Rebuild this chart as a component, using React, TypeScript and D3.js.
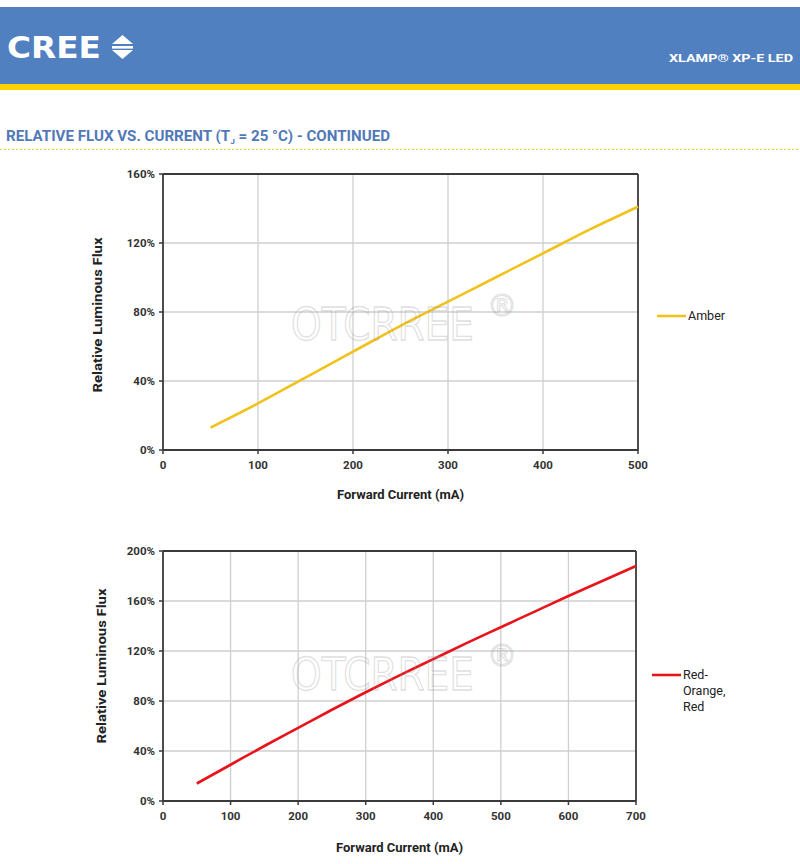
import React from "react";
import * as d3 from "d3";

const amberCurrent = [50, 100, 150, 200, 250, 300, 350, 400, 450, 500];
const amberFlux = [13, 27, 42, 57, 72, 86, 100, 114, 128, 141];

const redCurrent = [50, 100, 150, 200, 250, 300, 350, 400, 450, 500, 550, 600, 650, 700];
const redFlux = [14, 29, 44, 58.5, 73, 87, 100.5, 113.5, 126.5, 139, 151.5, 164, 176, 188];

const topXTicks = [0, 100, 200, 300, 400, 500];
const topYTicks = [0, 40, 80, 120, 160];
const botXTicks = [0, 100, 200, 300, 400, 500, 600, 700];
const botYTicks = [0, 40, 80, 120, 160, 200];

const FONT = "Roboto, 'Open Sans', 'Liberation Sans', sans-serif";

type ChartProps = {
  x0: number; x1: number; y0: number; y1: number;
  xMax: number; yMax: number;
  xTicks: number[]; yTicks: number[];
  xs: number[]; ys: number[];
  color: string;
  legend: string[];
  legendX: number; legendY: number;
  yTitleX: number; yTitleY: number; xTitleY: number;
};

function Chart(p: ChartProps) {
  const x = d3.scaleLinear().domain([0, p.xMax]).range([p.x0, p.x1]);
  const y = d3.scaleLinear().domain([0, p.yMax]).range([p.y1, p.y0]);
  const pts = p.xs.map((v, i) => [v, p.ys[i]] as [number, number]);
  const line = d3.line<[number, number]>().x(d => x(d[0])).y(d => y(d[1])).curve(d3.curveMonotoneX);
  const axisColor = "#3a3a3a";
  return (
    <g>
      {p.xTicks.slice(1, -1).map(t => (
        <line key={"gx" + t} x1={x(t)} x2={x(t)} y1={p.y0} y2={p.y1} stroke="#cfcfcf" strokeWidth={1.3} />
      ))}
      {p.yTicks.slice(1, -1).map(t => (
        <line key={"gy" + t} x1={p.x0} x2={p.x1} y1={y(t)} y2={y(t)} stroke="#cfcfcf" strokeWidth={1.3} />
      ))}
      <line x1={p.x0} x2={p.x1} y1={p.y0} y2={p.y0} stroke={axisColor} strokeWidth={1.8} />
      <line x1={p.x1} x2={p.x1} y1={p.y0} y2={p.y1} stroke={axisColor} strokeWidth={1.8} />
      <line x1={p.x0} x2={p.x0} y1={p.y0} y2={p.y1} stroke={axisColor} strokeWidth={1.8} />
      <line x1={p.x0} x2={p.x1} y1={p.y1} y2={p.y1} stroke={axisColor} strokeWidth={1.8} />
      {p.xTicks.map(t => (
        <g key={"tx" + t}>
          <line x1={x(t)} x2={x(t)} y1={p.y1} y2={p.y1 + 4} stroke={axisColor} strokeWidth={1.5} />
          <text x={x(t)} y={p.y1 + 19} textAnchor="middle" fontFamily={FONT} fontWeight={700} fontSize={11.5} fill="#333">{t}</text>
        </g>
      ))}
      {p.yTicks.map(t => (
        <g key={"ty" + t}>
          <line x1={p.x0 - 4} x2={p.x0} y1={y(t)} y2={y(t)} stroke={axisColor} strokeWidth={1.5} />
          <text x={p.x0 - 8} y={y(t) + 4} textAnchor="end" fontFamily={FONT} fontWeight={700} fontSize={11.5} fill="#333">{t + "%"}</text>
        </g>
      ))}
      <text transform={`translate(${p.yTitleX},${p.yTitleY}) rotate(-90)`} textAnchor="middle" fontFamily={FONT} fontWeight={700} fontSize={13} fill="#222" textLength={155} lengthAdjust="spacingAndGlyphs">Relative Luminous Flux</text>
      <text x={(p.x0 + p.x1) / 2} y={p.xTitleY} textAnchor="middle" fontFamily={FONT} fontWeight={700} fontSize={13} fill="#222">Forward Current (mA)</text>
      <path d={line(pts) || ""} fill="none" stroke={p.color} strokeWidth={2.6} />
      <line x1={p.legendX} x2={p.legendX + 29} y1={p.legendY} y2={p.legendY} stroke={p.color} strokeWidth={2.6} />
      {p.legend.map((s, i) => (
        <text key={s} x={p.legendX + 31} y={p.legendY + 4 + i * 16} fontFamily={FONT} fontSize={12.5} fill="#222">{s}</text>
      ))}
    </g>
  );
}

function Watermark({ x, y }: { x: number; y: number }) {
  return (
    <g opacity={0.3}>
      <text transform={`translate(${x},${y}) scale(1,1.16)`} fontFamily="'DejaVu Sans', sans-serif" fontSize={39} fill="none" stroke="#9a9a9a" strokeWidth={1.1}>OTCRREE</text>
      <text x={x + 196} y={y - 24} fontFamily="'DejaVu Sans', sans-serif" fontSize={30} fill="none" stroke="#9a9a9a" strokeWidth={1.1}>®</text>
    </g>
  );
}

export default function App() {
  return (
    <svg width={800} height={864} style={{ position: "absolute", left: 0, top: 0, background: "#fff" }}>
      <rect x={0} y={0} width={800} height={864} fill="#fff" />
      <rect x={0} y={7} width={800} height={78} fill="#5180c1" />
      <rect x={0} y={84} width={800} height={6} fill="#fdd000" />
      <text x={7} y={58} fontFamily="'Liberation Sans Narrow', 'DejaVu Sans Condensed', 'Liberation Sans', sans-serif" fontWeight={700} fontSize={31} fill="#fff" textLength={94} lengthAdjust="spacingAndGlyphs">CREE</text>
      <path d="M112,44 L122.5,35 L133,44 Z" fill="#fff" />
      <rect x={112} y={46} width={21} height={2.6} fill="#fff" />
      <path d="M112,50 L133,50 L122.5,59 Z" fill="#fff" />
      <text x={669} y={62} fontFamily={FONT} fontWeight={700} fontSize={11} fill="#fff" textLength={124} lengthAdjust="spacingAndGlyphs">XLAMP® XP-E LED</text>
      <text x={6} y={141} fontFamily={FONT} fontWeight={700} fontSize={14.5} fill="#5179b8" textLength={384} lengthAdjust="spacingAndGlyphs">
        RELATIVE FLUX VS. CURRENT (T<tspan fontSize={8} dy={3}>J</tspan><tspan dy={-3}> = 25 °C) - CONTINUED</tspan>
      </text>
      <line x1={0} x2={800} y1={149.5} y2={149.5} stroke="#e6d23c" strokeWidth={1.2} strokeDasharray="2,2" />

      <Chart x0={163} x1={638} y0={174} y1={450} xMax={500} yMax={160}
        xTicks={topXTicks} yTicks={topYTicks} xs={amberCurrent} ys={amberFlux}
        color="#f1c21b" legend={["Amber"]} legendX={657} legendY={316}
        yTitleX={102} yTitleY={315} xTitleY={499} />
      <Watermark x={291} y={340} />

      <Chart x0={163} x1={636} y0={551} y1={801} xMax={700} yMax={200}
        xTicks={botXTicks} yTicks={botYTicks} xs={redCurrent} ys={redFlux}
        color="#e8141c" legend={["Red-", "Orange,", "Red"]} legendX={652} legendY={675}
        yTitleX={106} yTitleY={666} xTitleY={852} />
      <Watermark x={291} y={690} />
    </svg>
  );
}
